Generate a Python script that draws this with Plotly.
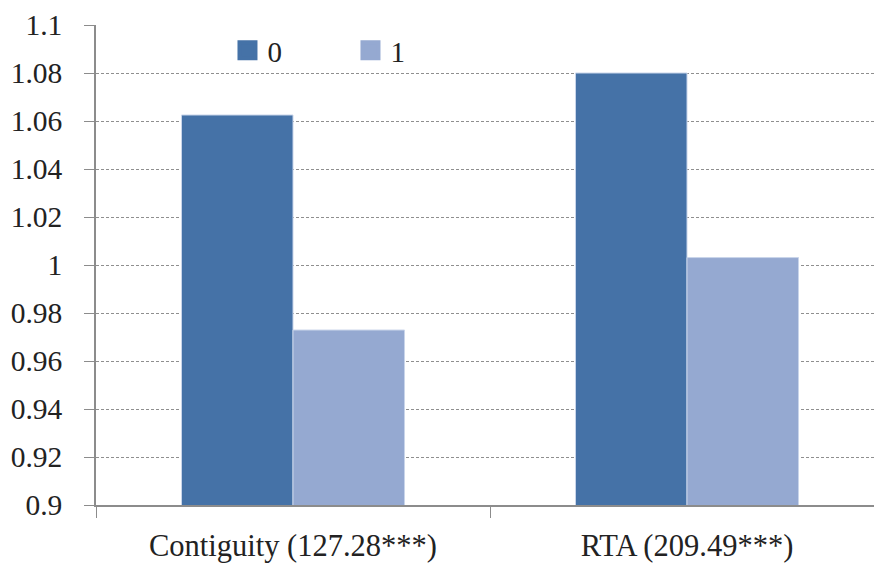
import plotly.graph_objects as go

categories = ["Contiguity (127.28***)", "RTA (209.49***)"]
series_names = ["0", "1"]
values_0 = [1.0625, 1.080]
values_1 = [0.9729, 1.0031]
y_ticks = [0.9, 0.92, 0.94, 0.96, 0.98, 1.0, 1.02, 1.04, 1.06, 1.08, 1.1]
y_tick_labels = ["0.9", "0.92", "0.94", "0.96", "0.98", "1", "1.02", "1.04", "1.06", "1.08", "1.1"]

colors = ["#4572A7", "#95A9D1"]
font_family = '"Liberation Serif", "Times New Roman", Times, serif'

fig = go.Figure()
for name, vals, col in zip(series_names, [values_0, values_1], colors):
    fig.add_trace(go.Bar(
        x=categories, y=vals, name=name, showlegend=False,
        marker=dict(color=col, line=dict(color="#c9d5ea", width=1)),
        base=0,
    ))
# legend entries with larger square keys
for name, col in zip(series_names, colors):
    fig.add_trace(go.Scatter(
        x=[None], y=[None], mode="markers", name=name,
        marker=dict(symbol="square", size=16, color=col, line=dict(color=col, width=4)),
    ))

W, H = 874, 564
ml, mt = 96, 25
plot_h = 480
plot_w = W - ml
mr = 0
mb = H - mt - plot_h
cat_px = 394
x_range = [-0.5, -0.5 + plot_w / cat_px]

fig.update_layout(
    width=W, height=H,
    margin=dict(l=ml, r=mr, t=mt, b=mb, autoexpand=False),
    paper_bgcolor="white", plot_bgcolor="white",
    barmode="group", bargap=0.434, bargroupgap=0,
    font=dict(family=font_family, size=28, color="#222"),
    showlegend=True,
    legend=dict(orientation="h", x=0.169, y=1.0, xanchor="left", yanchor="top",
                font=dict(size=29), bgcolor="rgba(0,0,0,0)", itemwidth=30,
                entrywidth=78, entrywidthmode="pixels", itemsizing="trace"),
    xaxis=dict(type="category", range=x_range, showgrid=False, automargin=False,
               showline=True, linecolor="#8c8c8c", linewidth=1.5,
               ticks="outside", tickson="boundaries", ticklen=11, tickcolor="#8c8c8c",
               tickfont=dict(size=30.5), ticklabelstandoff=13),
    yaxis=dict(range=[0.9, 1.1], tickvals=y_ticks, ticktext=y_tick_labels, automargin=False,
               showgrid=True, gridcolor="#8f8f8f", griddash="3px,2px", gridwidth=1,
               showline=True, linecolor="#8c8c8c", linewidth=1.5,
               ticks="outside", ticklen=10, tickcolor="#8c8c8c",
               tickfont=dict(size=29.5), zeroline=False, ticklabelstandoff=16),
)

fig.write_html("out.html",
               config={"displayModeBar": False},
               post_script="document.body.style.margin='0';document.body.style.overflow='hidden';")
